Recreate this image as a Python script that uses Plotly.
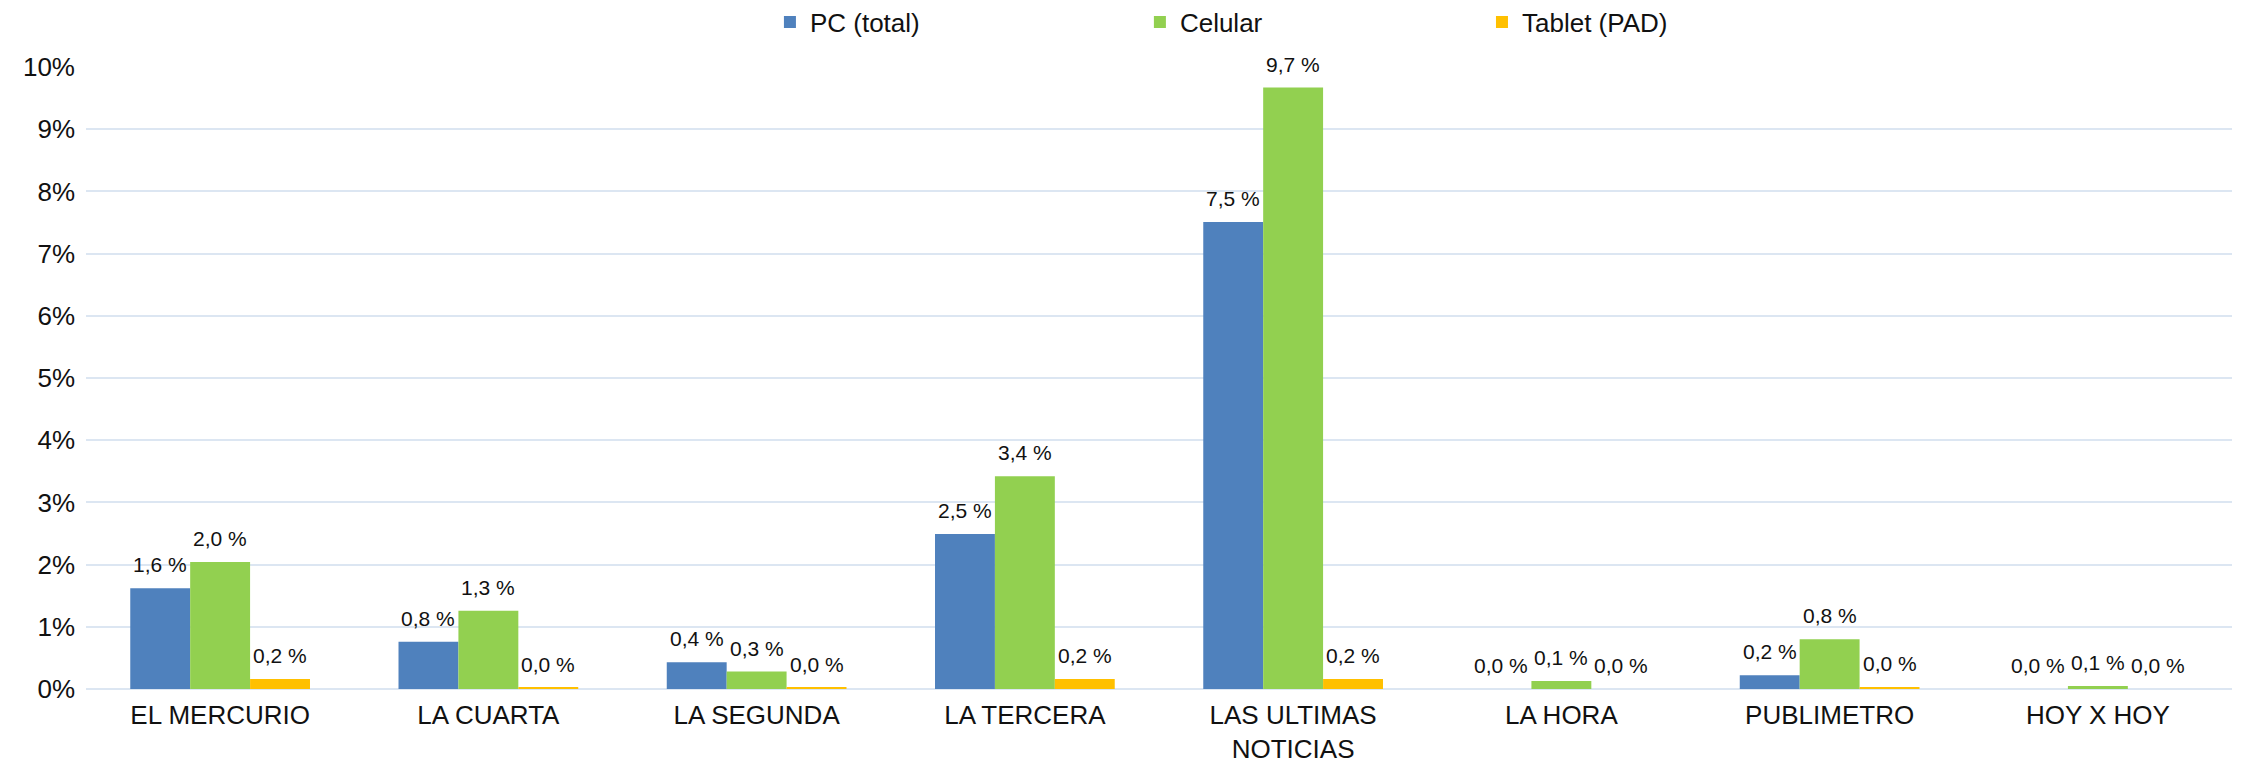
import plotly.graph_objects as go

categories = ["EL MERCURIO", "LA CUARTA", "LA SEGUNDA", "LA TERCERA",
              "LAS ULTIMAS<br>NOTICIAS", "LA HORA", "PUBLIMETRO", "HOY X HOY"]
pc_total = [1.62, 0.76, 0.43, 2.49, 7.51, 0.0, 0.22, 0.0]
celular = [2.04, 1.26, 0.28, 3.42, 9.67, 0.13, 0.80, 0.05]
tablet = [0.16, 0.02, 0.02, 0.16, 0.16, 0.0, 0.03, 0.0]
series_names = ["PC (total)", "Celular", "Tablet (PAD)"]
colors = ["#4f81bd", "#92d050", "#ffc000"]
y_ticks = list(range(0, 11))
y_tick_labels = [f"{v}%" for v in y_ticks]

W, H = 2233, 755
ML, MR, MT, MB = 78, 9, 59, 74
BARGAP = 0.33
cat_px = (W - ML - MR) / len(categories)
bar_px = cat_px * (1 - BARGAP) / 3
plot_h = H - MT - MB
legend_ids = ["legend", "legend2", "legend3"]
legend_x = [0.3187, 0.4911, 0.6505]
legend_y = 1 + (MT - 14) / plot_h

fig = go.Figure()
all_series = [pc_total, celular, tablet]
for i, (name, vals, col) in enumerate(zip(series_names, all_series, colors)):
    fig.add_trace(go.Bar(
        x=categories, y=vals, name=name, legend=legend_ids[i],
        marker=dict(color=col, line=dict(width=0)),
    ))
    for c, v in zip(categories, vals):
        fig.add_annotation(
            x=c, y=v, xref="x", yref="y",
            text=f"{v:.1f}".replace(".", ",") + " %",
            showarrow=False, yanchor="bottom", xanchor="center",
            xshift=(i - 1) * bar_px, yshift=10,
            font=dict(family="Liberation Sans, Arial", size=21, color="#111"),
        )

legend_common = dict(orientation="h", xanchor="left", y=legend_y, yanchor="middle",
                     yref="paper", font=dict(size=26, color="#111"),
                     itemwidth=30, bgcolor="rgba(0,0,0,0)")
fig.update_layout(
    width=W, height=H,
    margin=dict(l=ML, r=MR, t=MT, b=MB, autoexpand=False),
    paper_bgcolor="white", plot_bgcolor="white",
    barmode="group", bargap=BARGAP, bargroupgap=0,
    font=dict(family="Liberation Sans, Arial", color="#111"),
    legend=dict(x=legend_x[0], **legend_common),
    legend2=dict(x=legend_x[1], **legend_common),
    legend3=dict(x=legend_x[2], **legend_common),
    showlegend=True,
)
fig.update_xaxes(tickfont=dict(size=26, color="#111"), showline=False, ticks="",
                 ticklabelstandoff=8)
fig.update_yaxes(range=[0, 10], tickvals=y_ticks, ticktext=y_tick_labels,
                 tickfont=dict(size=26, color="#111"),
                 showgrid=True, gridcolor="#dce6f2", gridwidth=1.5,
                 zeroline=True, zerolinecolor="#dce6f2", zerolinewidth=1.5,
                 ticks="", ticklen=0, ticklabelstandoff=10)

fig.write_html("out.html")
